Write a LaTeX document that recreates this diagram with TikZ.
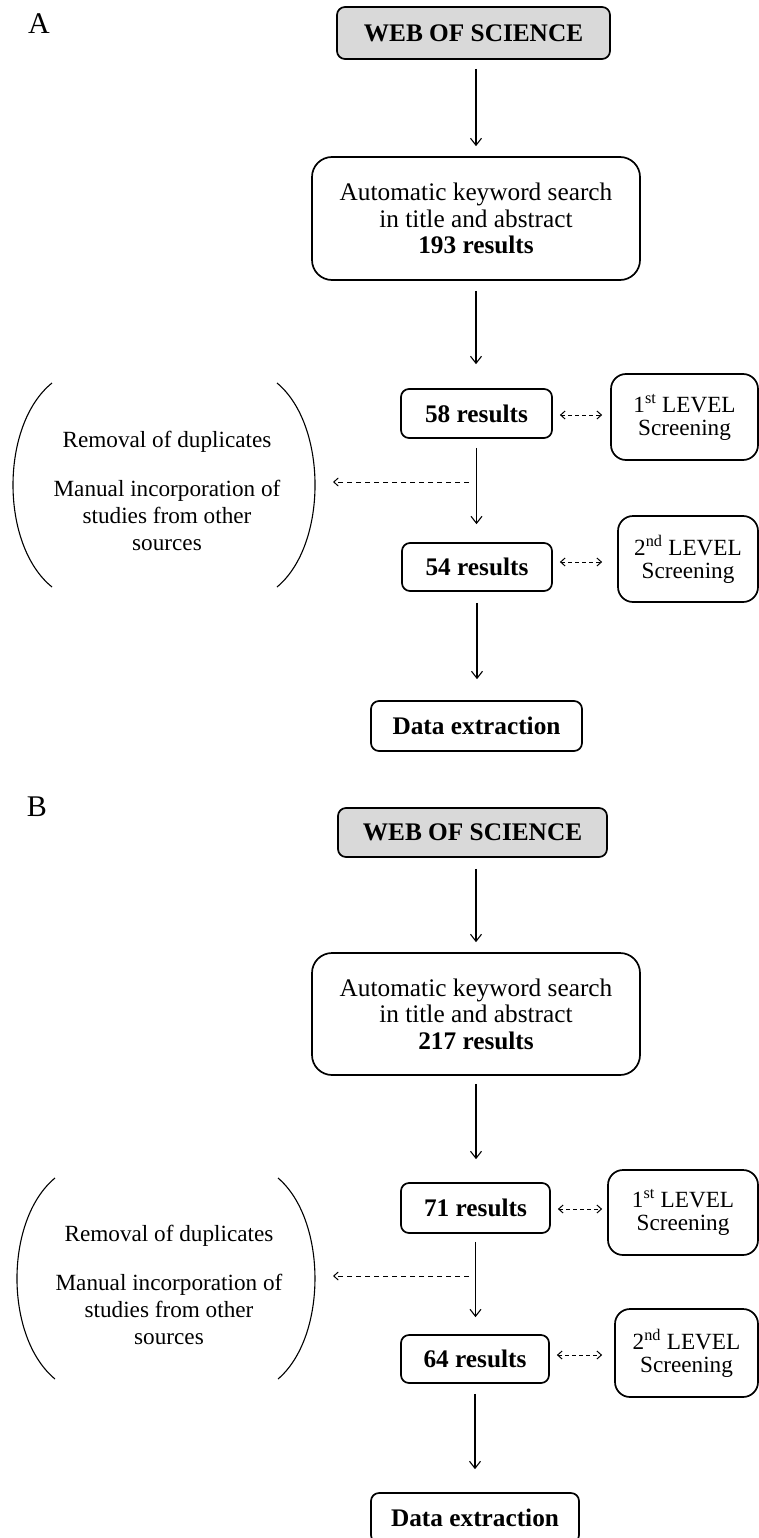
\documentclass[tikz,border=0pt]{standalone}
\usepackage{fontspec}
\setmainfont{Liberation Serif}
\usetikzlibrary{arrows.meta}
\newcommand\bigtxt{\fontsize{25.3}{26.5}\selectfont}
\newcommand\smtxt{\fontsize{23.2}{27}\selectfont}
\newcommand\lvltxt{\fontsize{23.2}{23}\selectfont}
\definecolor{wosgray}{HTML}{D9D9D9}
\tikzset{
  fbox/.style={draw, line width=1.7pt, rounded corners=8pt, inner sep=0pt, align=center, font=\bigtxt},
  bigbox/.style={fbox, rounded corners=20pt},
  lvlbox/.style={fbox, rounded corners=15pt, font=\lvltxt},
  sidetxt/.style={inner sep=0pt, align=center, font=\smtxt},
  arr/.style={-{Straight Barb[length=7pt,width=11pt]}, line width=1.1pt},
  darr/.style={{Straight Barb[length=4.5pt,width=8pt]}-{Straight Barb[length=4.5pt,width=8pt]}, line width=1pt, dash pattern=on 4pt off 3pt},
  larr/.style={-{Straight Barb[length=4.5pt,width=8pt]}, line width=1pt, dash pattern=on 5pt off 4pt},
  paren/.style={line width=1.1pt},
  panellabel/.style={inner sep=0pt, font=\fontsize{30}{32}\selectfont}
}
\begin{document}
\begin{tikzpicture}[x=1pt,y=-1pt]
\useasboundingbox (0,0) rectangle (759,1538);

% ---------------- Panel A ----------------
\node[panellabel] (labA) at (39,24) {A};
\node[fbox, fill=wosgray, minimum width=273pt, minimum height=52pt] (wosA) at (473.5,33) {\textbf{WEB OF SCIENCE}};
\node[bigbox, minimum width=328pt, minimum height=123pt] (srchA) at (476,218.5) {Automatic keyword search\\in title and abstract\\\textbf{193 results}};
\node[fbox, minimum width=151pt, minimum height=49pt] (r58) at (476.5,413.5) {\textbf{58 results}};
\node[lvlbox, minimum width=147pt, minimum height=86pt] (lev1A) at (684.5,417) {1\textsuperscript{st} LEVEL\\Screening};
\node[fbox, minimum width=150pt, minimum height=48pt] (r54) at (477,567) {\textbf{54 results}};
\node[lvlbox, minimum width=140pt, minimum height=86pt] (lev2A) at (688,559) {2\textsuperscript{nd} LEVEL\\Screening};
\node[fbox, minimum width=211pt, minimum height=50pt] (dataA) at (476.5,726) {\textbf{Data extraction}};
\node[sidetxt] (remA) at (167,442) {Removal of duplicates};
\node[sidetxt] (manA) at (167,515) {Manual incorporation of\\studies from other\\sources};

\draw[paren] (52,383) .. controls (0,425) and (0,545) .. (52,587);
\draw[paren] (277,383) .. controls (327.7,425) and (327.7,545) .. (277,587);

\draw[arr, shorten <=9pt, shorten >=10pt] (srchA.north |- wosA.south) -- (srchA.north);
\draw[arr, shorten <=10pt, shorten >=24pt] (srchA.south) -- (srchA.south |- r58.north);
\draw[arr, shorten <=9pt, shorten >=18pt] (r58.south) -- (r58.south |- r54.north);
\draw[arr, shorten <=11pt, shorten >=21pt] (r54.south) -- (r54.south |- dataA.north);
\draw[darr, shorten <=7pt, shorten >=8pt] ([yshift=-1.5pt]r58.east) -- ([yshift=-1.5pt]r58.east -| lev1A.west);
\draw[darr, shorten <=7pt, shorten >=15pt] ([yshift=5pt]r54.east) -- ([yshift=5pt]r54.east -| lev2A.west);
\coordinate (jA) at (477,482);
\coordinate (eA) at (333,482);
\draw[larr, shorten <=8pt] (jA) -- (eA);

% ---------------- Panel B ----------------
\node[panellabel] (labB) at (37,807) {B};
\node[fbox, fill=wosgray, minimum width=269pt, minimum height=49pt] (wosB) at (472.5,832.5) {\textbf{WEB OF SCIENCE}};
\node[bigbox, minimum width=328pt, minimum height=122pt] (srchB) at (476,1014) {Automatic keyword search\\in title and abstract\\\textbf{217 results}};
\node[fbox, minimum width=149pt, minimum height=50pt] (r71) at (475.5,1208) {\textbf{71 results}};
\node[lvlbox, minimum width=150pt, minimum height=85pt] (lev1B) at (683,1212.5) {1\textsuperscript{st} LEVEL\\Screening};
\node[fbox, minimum width=148pt, minimum height=48pt] (r64) at (475,1359) {\textbf{64 results}};
\node[lvlbox, minimum width=143pt, minimum height=88pt] (lev2B) at (686.5,1353) {2\textsuperscript{nd} LEVEL\\Screening};
\node[fbox, minimum width=208pt, minimum height=50pt] (dataB) at (475,1518) {\textbf{Data extraction}};
\node[sidetxt] (remB) at (169,1236) {Removal of duplicates};
\node[sidetxt] (manB) at (169,1309) {Manual incorporation of\\studies from other\\sources};

\draw[paren] (55,1178) .. controls (4.3,1220) and (4.3,1337) .. (55,1379);
\draw[paren] (278,1178) .. controls (327.3,1220) and (327.3,1337) .. (278,1379);

\draw[arr, shorten <=11pt, shorten >=10pt] (srchB.north |- wosB.south) -- (srchB.north);
\draw[arr, shorten <=8pt, shorten >=23pt] (srchB.south) -- (srchB.south |- r71.north);
\draw[arr, shorten <=8pt, shorten >=17pt] (r71.south) -- (r71.south |- r64.north);
\draw[arr, shorten <=10pt, shorten >=23pt] (r64.south) -- (r64.south |- dataB.north);
\draw[darr, shorten <=7pt, shorten >=5pt] ([yshift=-1pt]r71.east) -- ([yshift=-1pt]r71.east -| lev1B.west);
\draw[darr, shorten <=7pt, shorten >=12pt] ([yshift=4pt]r64.east) -- ([yshift=4pt]r64.east -| lev2B.west);
\coordinate (jB) at (476,1276);
\coordinate (eB) at (333,1276);
\draw[larr, shorten <=7pt] (jB) -- (eB);
\end{tikzpicture}
\end{document}
